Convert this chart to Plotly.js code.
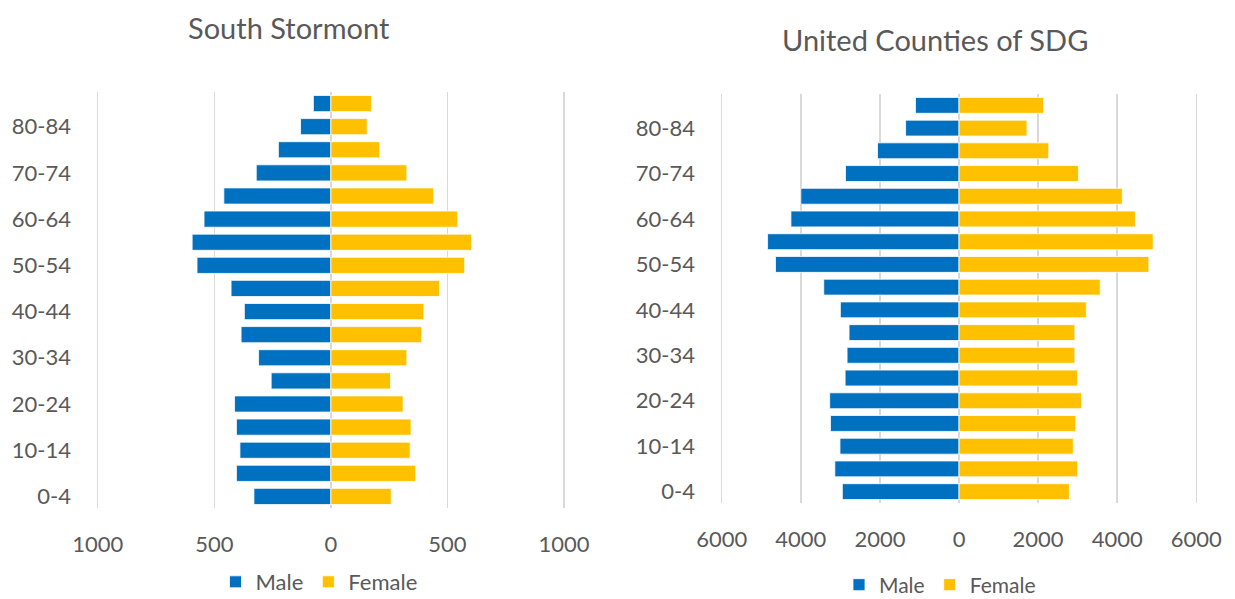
<!DOCTYPE html>
<html>
<head>
<meta charset="utf-8">
<script src="https://cdn.plot.ly/plotly-3.0.1.min.js"></script>
<style>
  html, body { margin: 0; padding: 0; background: #fff; }
  #chart { width: 1235px; height: 599px; }
</style>
</head>
<body>
<div id="chart"></div>
<script>
// Age groups, youngest first
const ageGroups = ["0-4", "5-9", "10-14", "15-19", "20-24", "25-29", "30-34", "35-39", "40-44",
  "45-49", "50-54", "55-59", "60-64", "65-69", "70-74", "75-79", "80-84", "85+"];
const shownAges = ["0-4", "10-14", "20-24", "30-34", "40-44", "50-54", "60-64", "70-74", "80-84"];

// South Stormont
const ssMale = [330, 405, 390, 405, 413, 256, 310, 385, 371, 428, 574, 595, 544, 459, 320, 225, 130, 75];
const ssFemale = [259, 364, 340, 344, 310, 256, 326, 390, 399, 466, 574, 604, 544, 441, 326, 210, 156, 174];

// United Counties of SDG
const sdgMale = [2950, 3140, 3010, 3250, 3270, 2880, 2830, 2780, 3000, 3420, 4640, 4840, 4250, 4000, 2870, 2060, 1350, 1100];
const sdgFemale = [2790, 3000, 2890, 2950, 3100, 3000, 2930, 2930, 3220, 3570, 4800, 4910, 4460, 4130, 3020, 2270, 1720, 2140];

const ssTicks = [-1000, -500, 0, 500, 1000];
const sdgTicks = [-6000, -4000, -2000, 0, 2000, 4000, 6000];

const maleColor = "#0070C0";
const femaleColor = "#FFC000";
const textColor = "#595959";
const font = "Lato, 'Open Sans', sans-serif";
const W = 1235, H = 599;

function neg(arr) { return arr.map(v => -v); }

function barTrace(vals, name, color, xa, ya, legend) {
  return {
    type: "bar",
    orientation: "h",
    x: vals,
    y: ageGroups,
    name: name,
    xaxis: xa,
    yaxis: ya,
    legend: legend,
    marker: { color: color, line: { color: "#ffffff", width: 0.8 } },
    hoverinfo: "y+name",
  };
}

const traces = [
  barTrace(neg(ssMale), "Male", maleColor, "x", "y", "legend"),
  barTrace(ssFemale, "Female", femaleColor, "x", "y", "legend"),
  barTrace(neg(sdgMale), "Male", maleColor, "x2", "y2", "legend2"),
  barTrace(sdgFemale, "Female", femaleColor, "x2", "y2", "legend2"),
];

// outer ticks sit at pixels left..right; pad the range a bit so the
// edge gridlines are not clipped away, and widen the domain to match
function xAxis(ticks, left, right, anchor) {
  const max = ticks[ticks.length - 1];
  const padFrac = 0.02;
  const padPx = (right - left) / 2 * padFrac;
  return {
    domain: [(left - padPx) / W, (right + padPx) / W],
    anchor: anchor,
    range: [-max * (1 + padFrac), max * (1 + padFrac)],
    tickvals: ticks,
    ticktext: ticks.map(v => String(Math.abs(v))),
    showgrid: true,
    gridcolor: "#d9d9d9",
    gridwidth: 1.5,
    zeroline: true,
    zerolinecolor: "#d9d9d9",
    zerolinewidth: 1.5,
    showline: false,
    ticks: "",
    ticklabelstandoff: 21,
    tickfont: { family: font, size: 22, color: textColor },
    fixedrange: true,
  };
}

function yAxis(top, bottom, anchor) {
  return {
    domain: [1 - bottom / H, 1 - top / H],
    anchor: anchor,
    type: "category",
    categoryorder: "array",
    categoryarray: ageGroups,
    tickvals: shownAges,
    showgrid: false,
    zeroline: false,
    showline: false,
    ticks: "",
    ticklabelstandoff: 21,
    tickfont: { family: font, size: 22, color: textColor },
    fixedrange: true,
  };
}

const layout = {
  width: W,
  height: H,
  margin: { l: 0, r: 0, t: 0, b: 0, autoexpand: false },
  paper_bgcolor: "#ffffff",
  plot_bgcolor: "#ffffff",
  barmode: "relative",
  bargap: 0.3,
  font: { family: font, color: textColor },
  xaxis: xAxis(ssTicks, 97.7, 564, "y"),
  yaxis: yAxis(92, 508, "x"),
  xaxis2: xAxis(sdgTicks, 721.7, 1196.3, "y2"),
  yaxis2: yAxis(94, 503, "x2"),
  legend: {
    orientation: "h",
    x: 319 / W, xanchor: "center",
    y: 1 - 582 / H, yanchor: "middle",
    font: { family: font, size: 22, color: textColor },
    itemwidth: 30,
  },
  legend2: {
    orientation: "h",
    x: 940 / W, xanchor: "center",
    y: 1 - 585 / H, yanchor: "middle",
    font: { family: font, size: 21, color: textColor },
    itemwidth: 30,
  },
  annotations: [
    {
      text: "South Stormont", showarrow: false,
      xref: "paper", yref: "paper",
      x: 289 / W, y: 1 - 27 / H, xanchor: "center", yanchor: "middle",
      font: { family: font, size: 29, color: textColor },
    },
    {
      text: "United Counties of SDG", showarrow: false,
      xref: "paper", yref: "paper",
      x: 935 / W, y: 1 - 40 / H, xanchor: "center", yanchor: "middle",
      font: { family: font, size: 29, color: textColor },
    },
  ],
};

Plotly.newPlot("chart", traces, layout, { displayModeBar: false, staticPlot: true });
</script>
</body>
</html>
